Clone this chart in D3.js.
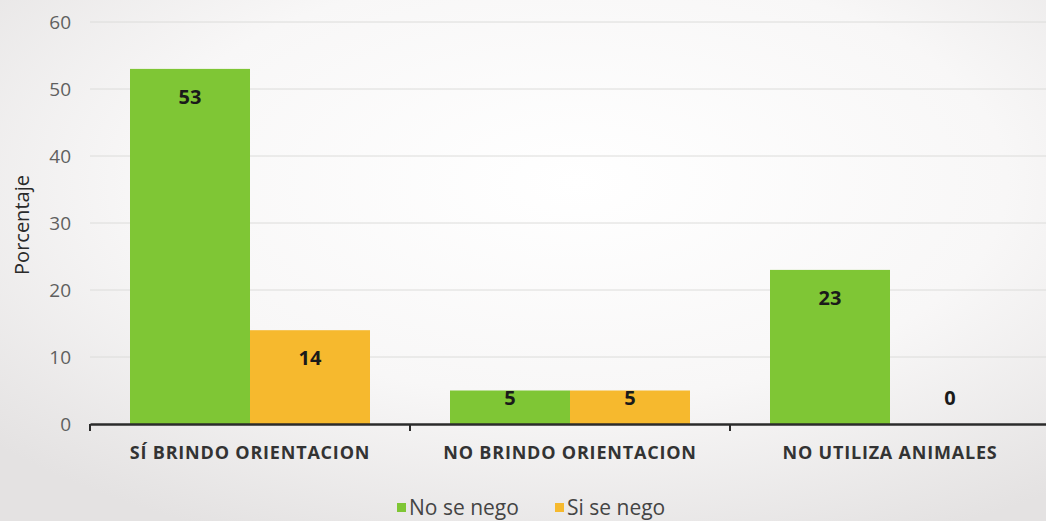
<!DOCTYPE html>
<html><head><meta charset="utf-8">
<script src="https://cdn.jsdelivr.net/npm/d3@7"></script>
<style>
body{margin:0;background:#f3f3f1;}
svg{display:block;}
</style></head>
<body>
<svg id="c" width="1046" height="521"></svg>
<script>
const categories = ["SÍ BRINDO ORIENTACION", "NO BRINDO ORIENTACION", "NO UTILIZA ANIMALES"];
const seriesNames = ["No se nego", "Si se nego"];
const noSeNego = [53, 5, 23];
const siSeNego = [14, 5, 0];
const yTicks = [0, 10, 20, 30, 40, 50, 60];
const colors = ["#7fc635", "#f6b92e"];

const svg = d3.select("#c");
const W = 1046, H = 521;

const defs = svg.append("defs");
const g1 = defs.append("radialGradient").attr("id","bg").attr("cx","55%").attr("cy","35%").attr("r","75%");
g1.append("stop").attr("offset","0%").attr("stop-color","#ffffff");
g1.append("stop").attr("offset","55%").attr("stop-color","#f8f7f7");
g1.append("stop").attr("offset","100%").attr("stop-color","#e4e2e2");
svg.append("rect").attr("width",W).attr("height",H).attr("fill","url(#bg)");

const x0 = d3.scaleBand().domain(categories).range([90, 1050]).padding(0);
const x1 = d3.scaleBand().domain(seriesNames).range([40, x0.bandwidth()-40]).padding(0);
const y = d3.scaleLinear().domain([0, 60]).range([424, 22]);

// gridlines
svg.append("g").selectAll("line").data(yTicks.slice(1)).join("line")
  .attr("x1", 90).attr("x2", 1046)
  .attr("y1", d => y(d)).attr("y2", d => y(d))
  .attr("stroke", "#dcdcda").attr("stroke-width", 1);

// y tick labels
const yAxis = d3.axisLeft(y).tickValues(yTicks).tickSize(0).tickPadding(0);
const ya = svg.append("g").attr("transform","translate(71,0)").call(yAxis);
ya.select(".domain").remove();
ya.selectAll("text").attr("fill","#5f5f5f").style("font-family","'Open Sans', Lato, sans-serif").style("font-size","19px");

// bars
const data = categories.map((c,i)=>({cat:c, vals:[noSeNego[i], siSeNego[i]]}));
const grp = svg.append("g").selectAll("g").data(data).join("g")
  .attr("transform", d => `translate(${x0(d.cat)},0)`);
grp.selectAll("rect").data(d => d.vals.map((v,j)=>({name:seriesNames[j], v, j}))).join("rect")
  .attr("x", d => x1(d.name)).attr("width", x1.bandwidth())
  .attr("y", d => y(d.v)).attr("height", d => y(0)-y(d.v))
  .attr("fill", d => colors[d.j]);
grp.selectAll("text").data(d => d.vals.map((v,j)=>({name:seriesNames[j], v, j}))).join("text")
  .attr("x", d => x1(d.name) + x1.bandwidth()/2)
  .attr("y", d => Math.min(y(d.v) + 28, 398))
  .attr("dy","0.35em")
  .attr("text-anchor","middle")
  .attr("fill","#1a1a1a")
  .style("font-family","'Open Sans', Lato, sans-serif").style("font-weight","bold").style("font-size","20px")
  .text(d => d.v);

// x axis
const xAxis = d3.axisBottom(x0).tickSize(0).tickPadding(22);
const xa = svg.append("g").attr("transform",`translate(0,${y(0)})`).call(xAxis);
xa.select(".domain").attr("stroke","#2b2b2b").attr("stroke-width",2.5);
xa.selectAll("text").attr("fill","#333").style("font-family","'Open Sans', Lato, sans-serif").style("font-weight","bold").style("font-size","18px").style("letter-spacing","0.8px");
// category boundary ticks
const bounds = categories.map(c => x0(c)).concat([x0.range()[1]]);
svg.append("g").selectAll("line").data(bounds).join("line")
  .attr("x1", d=>d).attr("x2", d=>d).attr("y1", y(0)).attr("y2", y(0)+7)
  .attr("stroke","#2b2b2b").attr("stroke-width",2);

// y axis title
svg.append("text").attr("transform","translate(22,225) rotate(-90)")
  .attr("text-anchor","middle").attr("dy","0.35em").attr("fill","#2a2a2a")
  .style("font-family","'Open Sans', Lato, sans-serif").style("font-size","20px")
  .text("Porcentaje");

// legend
const legX = [397, 555];
const leg = svg.append("g").selectAll("g").data(seriesNames).join("g")
  .attr("transform",(d,i)=>`translate(${legX[i]},508)`);
leg.append("rect").attr("x",0).attr("y",-5).attr("width",9).attr("height",9).attr("fill",(d,i)=>colors[i]);
leg.append("text").attr("x",12).attr("dy","0.35em").attr("fill","#444")
  .style("font-family","'Open Sans', Lato, sans-serif").style("font-size","21px").text(d=>d);
</script>
</body></html>
